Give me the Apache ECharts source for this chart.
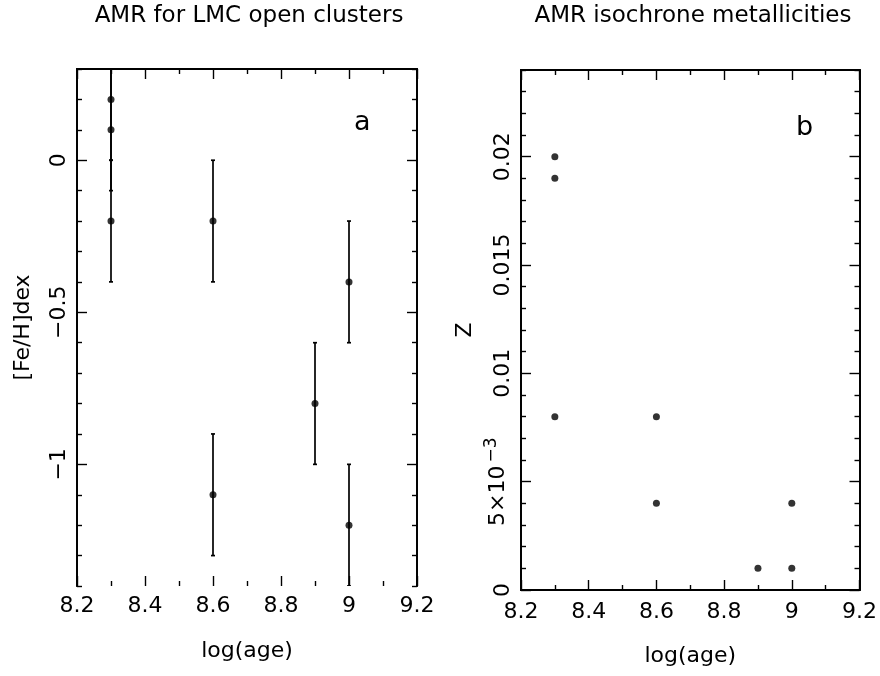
<!DOCTYPE html>
<html>
<head>
<meta charset="utf-8">
<script src="https://cdn.jsdelivr.net/npm/echarts@6/dist/echarts.min.js"></script>
<style>
html,body{margin:0;padding:0;background:#fff;}
#chart{width:880px;height:676px;}
</style>
</head>
<body>
<div id="chart"></div>
<script>
// ---- data ----
const leftTitle = 'AMR for LMC open clusters';
const rightTitle = 'AMR isochrone metallicities';
const logAge = [8.3, 8.3, 8.3, 8.6, 8.6, 8.9, 9.0, 9.0];
const feH = [0.2, 0.1, -0.2, -0.2, -1.1, -0.8, -0.4, -1.2];
const feHErr = [0.2, 0.2, 0.2, 0.2, 0.2, 0.2, 0.2, 0.2];
const zLogAge = [8.3, 8.3, 8.3, 8.6, 8.6, 8.9, 9.0, 9.0];
const zValues = [0.020, 0.019, 0.008, 0.008, 0.004, 0.001, 0.004, 0.001];

const xMajorTicks = [8.2, 8.4, 8.6, 8.8, 9.0, 9.2];
const xMinorTicks = [8.3, 8.5, 8.7, 8.9, 9.1];
const feHMajorTicks = [-1, -0.5, 0];
const feHMinorTicks = [-1.4, -1.3, -1.2, -1.1, -0.9, -0.8, -0.7, -0.6, -0.4, -0.3, -0.2, -0.1, 0.1, 0.2, 0.3];
const zMajorTicks = [0, 0.005, 0.01, 0.015, 0.02];
const zMinorTicks = [0.001, 0.002, 0.003, 0.004, 0.006, 0.007, 0.008, 0.009, 0.011, 0.012, 0.013, 0.014,
  0.016, 0.017, 0.018, 0.019, 0.021, 0.022, 0.023, 0.024];

// ---- style ----
const FONT = 'DejaVu Sans';
const INK = '#000';
const MAJOR_LEN = 10, MINOR_LEN = 5;

function xAxis(grid, position, ticks, len, opts) {
  opts = opts || {};
  return Object.assign({
    type: 'value', gridIndex: grid, position: position, min: 8.2, max: 9.2,
    axisLine: { show: opts.line !== false, onZero: false, lineStyle: { color: INK, width: 1.8 } },
    axisTick: { show: true, inside: true, length: len, customValues: ticks, lineStyle: { color: INK, width: 1.4 } },
    axisLabel: opts.labels ? {
      show: true, customValues: ticks, fontFamily: FONT, fontSize: 22, color: INK, margin: opts.margin,
      formatter: v => String(Math.round(v * 10) / 10)
    } : { show: false },
    splitLine: { show: false }
  }, opts.extra || {});
}

function yAxis(grid, position, min, max, ticks, len, opts) {
  opts = opts || {};
  return Object.assign({
    type: 'value', gridIndex: grid, position: position, min: min, max: max,
    axisLine: { show: true, onZero: false, lineStyle: { color: INK, width: 1.8 } },
    axisTick: { show: true, inside: true, length: len, customValues: ticks, lineStyle: { color: INK, width: 1.4 } },
    axisLabel: opts.labels ? {
      show: true, customValues: ticks, rotate: 90, fontFamily: FONT, fontSize: 22, color: INK,
      margin: opts.margin, formatter: opts.formatter, rich: opts.rich
    } : { show: false },
    splitLine: { show: false }
  }, opts.extra || {});
}

const nameStyle = { fontFamily: FONT, fontSize: 22, color: INK };

const xAxes = [
  // left panel
  xAxis(0, 'bottom', xMajorTicks, MAJOR_LEN, { line: false, labels: true, margin: 9,
    extra: { name: 'log(age)', nameLocation: 'middle', nameGap: 54, nameTextStyle: nameStyle } }),
  xAxis(0, 'bottom', xMinorTicks, MINOR_LEN, { line: false }),
  xAxis(0, 'top', xMajorTicks, MAJOR_LEN, {}),
  xAxis(0, 'top', xMinorTicks, MINOR_LEN, {}),
  // right panel
  xAxis(1, 'bottom', xMajorTicks, MAJOR_LEN, { labels: true, margin: 11,
    extra: { name: 'log(age)', nameLocation: 'middle', nameGap: 55, nameTextStyle: nameStyle } }),
  xAxis(1, 'bottom', xMinorTicks, MINOR_LEN, {}),
  xAxis(1, 'top', xMajorTicks, MAJOR_LEN, {}),
  xAxis(1, 'top', xMinorTicks, MINOR_LEN, {})
];

const yAxes = [
  yAxis(0, 'left', -1.4, 0.3, feHMajorTicks, MAJOR_LEN, { labels: true, margin: 7,
    formatter: v => String(v).replace('-', '\u2212'),
    extra: { name: '[Fe/H]dex', nameLocation: 'middle', nameGap: 43, nameTextStyle: nameStyle } }),
  yAxis(0, 'left', -1.4, 0.3, feHMinorTicks, MINOR_LEN, {}),
  yAxis(0, 'right', -1.4, 0.3, feHMajorTicks, MAJOR_LEN, {}),
  yAxis(0, 'right', -1.4, 0.3, feHMinorTicks, MINOR_LEN, {}),
  yAxis(1, 'left', 0, 0.024, zMajorTicks, MAJOR_LEN, { labels: true, margin: 7,
    formatter: v => (Math.abs(v - 0.005) < 1e-9 ? '{n|5\u00d710}{s|\u22123}' : String(v)),
    rich: { n: { fontFamily: FONT, fontSize: 22, color: INK }, s: { fontFamily: FONT, fontSize: 17, color: INK, padding: [0, 0, 14, 3] } },
    extra: { name: 'Z', nameLocation: 'middle', nameGap: 45, nameTextStyle: nameStyle } }),
  yAxis(1, 'left', 0, 0.024, zMinorTicks, MINOR_LEN, {}),
  yAxis(1, 'right', 0, 0.024, zMajorTicks, MAJOR_LEN, {}),
  yAxis(1, 'right', 0, 0.024, zMinorTicks, MINOR_LEN, {})
];

function errorBars(xi, yi, xs, ys, errs) {
  return {
    type: 'custom', xAxisIndex: xi, yAxisIndex: yi, clip: true, silent: true,
    data: xs.map((x, i) => [x, ys[i] - errs[i], ys[i] + errs[i]]),
    renderItem: function (params, api) {
      const lo = api.coord([api.value(0), api.value(1)]);
      const hi = api.coord([api.value(0), api.value(2)]);
      const c = 2;
      const st = { stroke: INK, lineWidth: 1.7 };
      return { type: 'group', children: [
        { type: 'line', shape: { x1: lo[0], y1: lo[1], x2: hi[0], y2: hi[1] }, style: st },
        { type: 'line', shape: { x1: lo[0] - c, y1: lo[1], x2: lo[0] + c, y2: lo[1] }, style: st },
        { type: 'line', shape: { x1: hi[0] - c, y1: hi[1], x2: hi[0] + c, y2: hi[1] }, style: st }
      ] };
    }
  };
}

const option = {
  backgroundColor: '#fff',
  animation: false,
  title: [
    { text: leftTitle, left: 249, top: 5, textAlign: 'center', padding: 0,
      textStyle: { fontFamily: FONT, fontSize: 23, fontWeight: 'normal', color: INK } },
    { text: rightTitle, left: 693, top: 5, textAlign: 'center', padding: 0,
      textStyle: { fontFamily: FONT, fontSize: 23, fontWeight: 'normal', color: INK } }
  ],
  grid: [
    { left: 77, top: 69, width: 340, height: 517 },
    { left: 521, top: 70, width: 340, height: 520 }
  ],
  xAxis: xAxes,
  yAxis: yAxes,
  graphic: [
    { type: 'text', left: 354, top: 109, style: { text: 'a', fontFamily: FONT, fontSize: 27, fill: INK } },
    { type: 'text', left: 796, top: 114, style: { text: 'b', fontFamily: FONT, fontSize: 27, fill: INK } }
  ],
  series: [
    errorBars(0, 0, logAge, feH, feHErr),
    { type: 'scatter', xAxisIndex: 0, yAxisIndex: 0, symbol: 'circle', symbolSize: 7,
      itemStyle: { color: INK }, data: logAge.map((x, i) => [x, feH[i]]) },
    { type: 'scatter', xAxisIndex: 4, yAxisIndex: 4, symbol: 'circle', symbolSize: 7,
      itemStyle: { color: INK }, data: zLogAge.map((x, i) => [x, zValues[i]]) }
  ]
};

const chart = echarts.init(document.getElementById('chart'), null, { renderer: 'canvas' });
chart.setOption(option);
</script>
</body>
</html>
